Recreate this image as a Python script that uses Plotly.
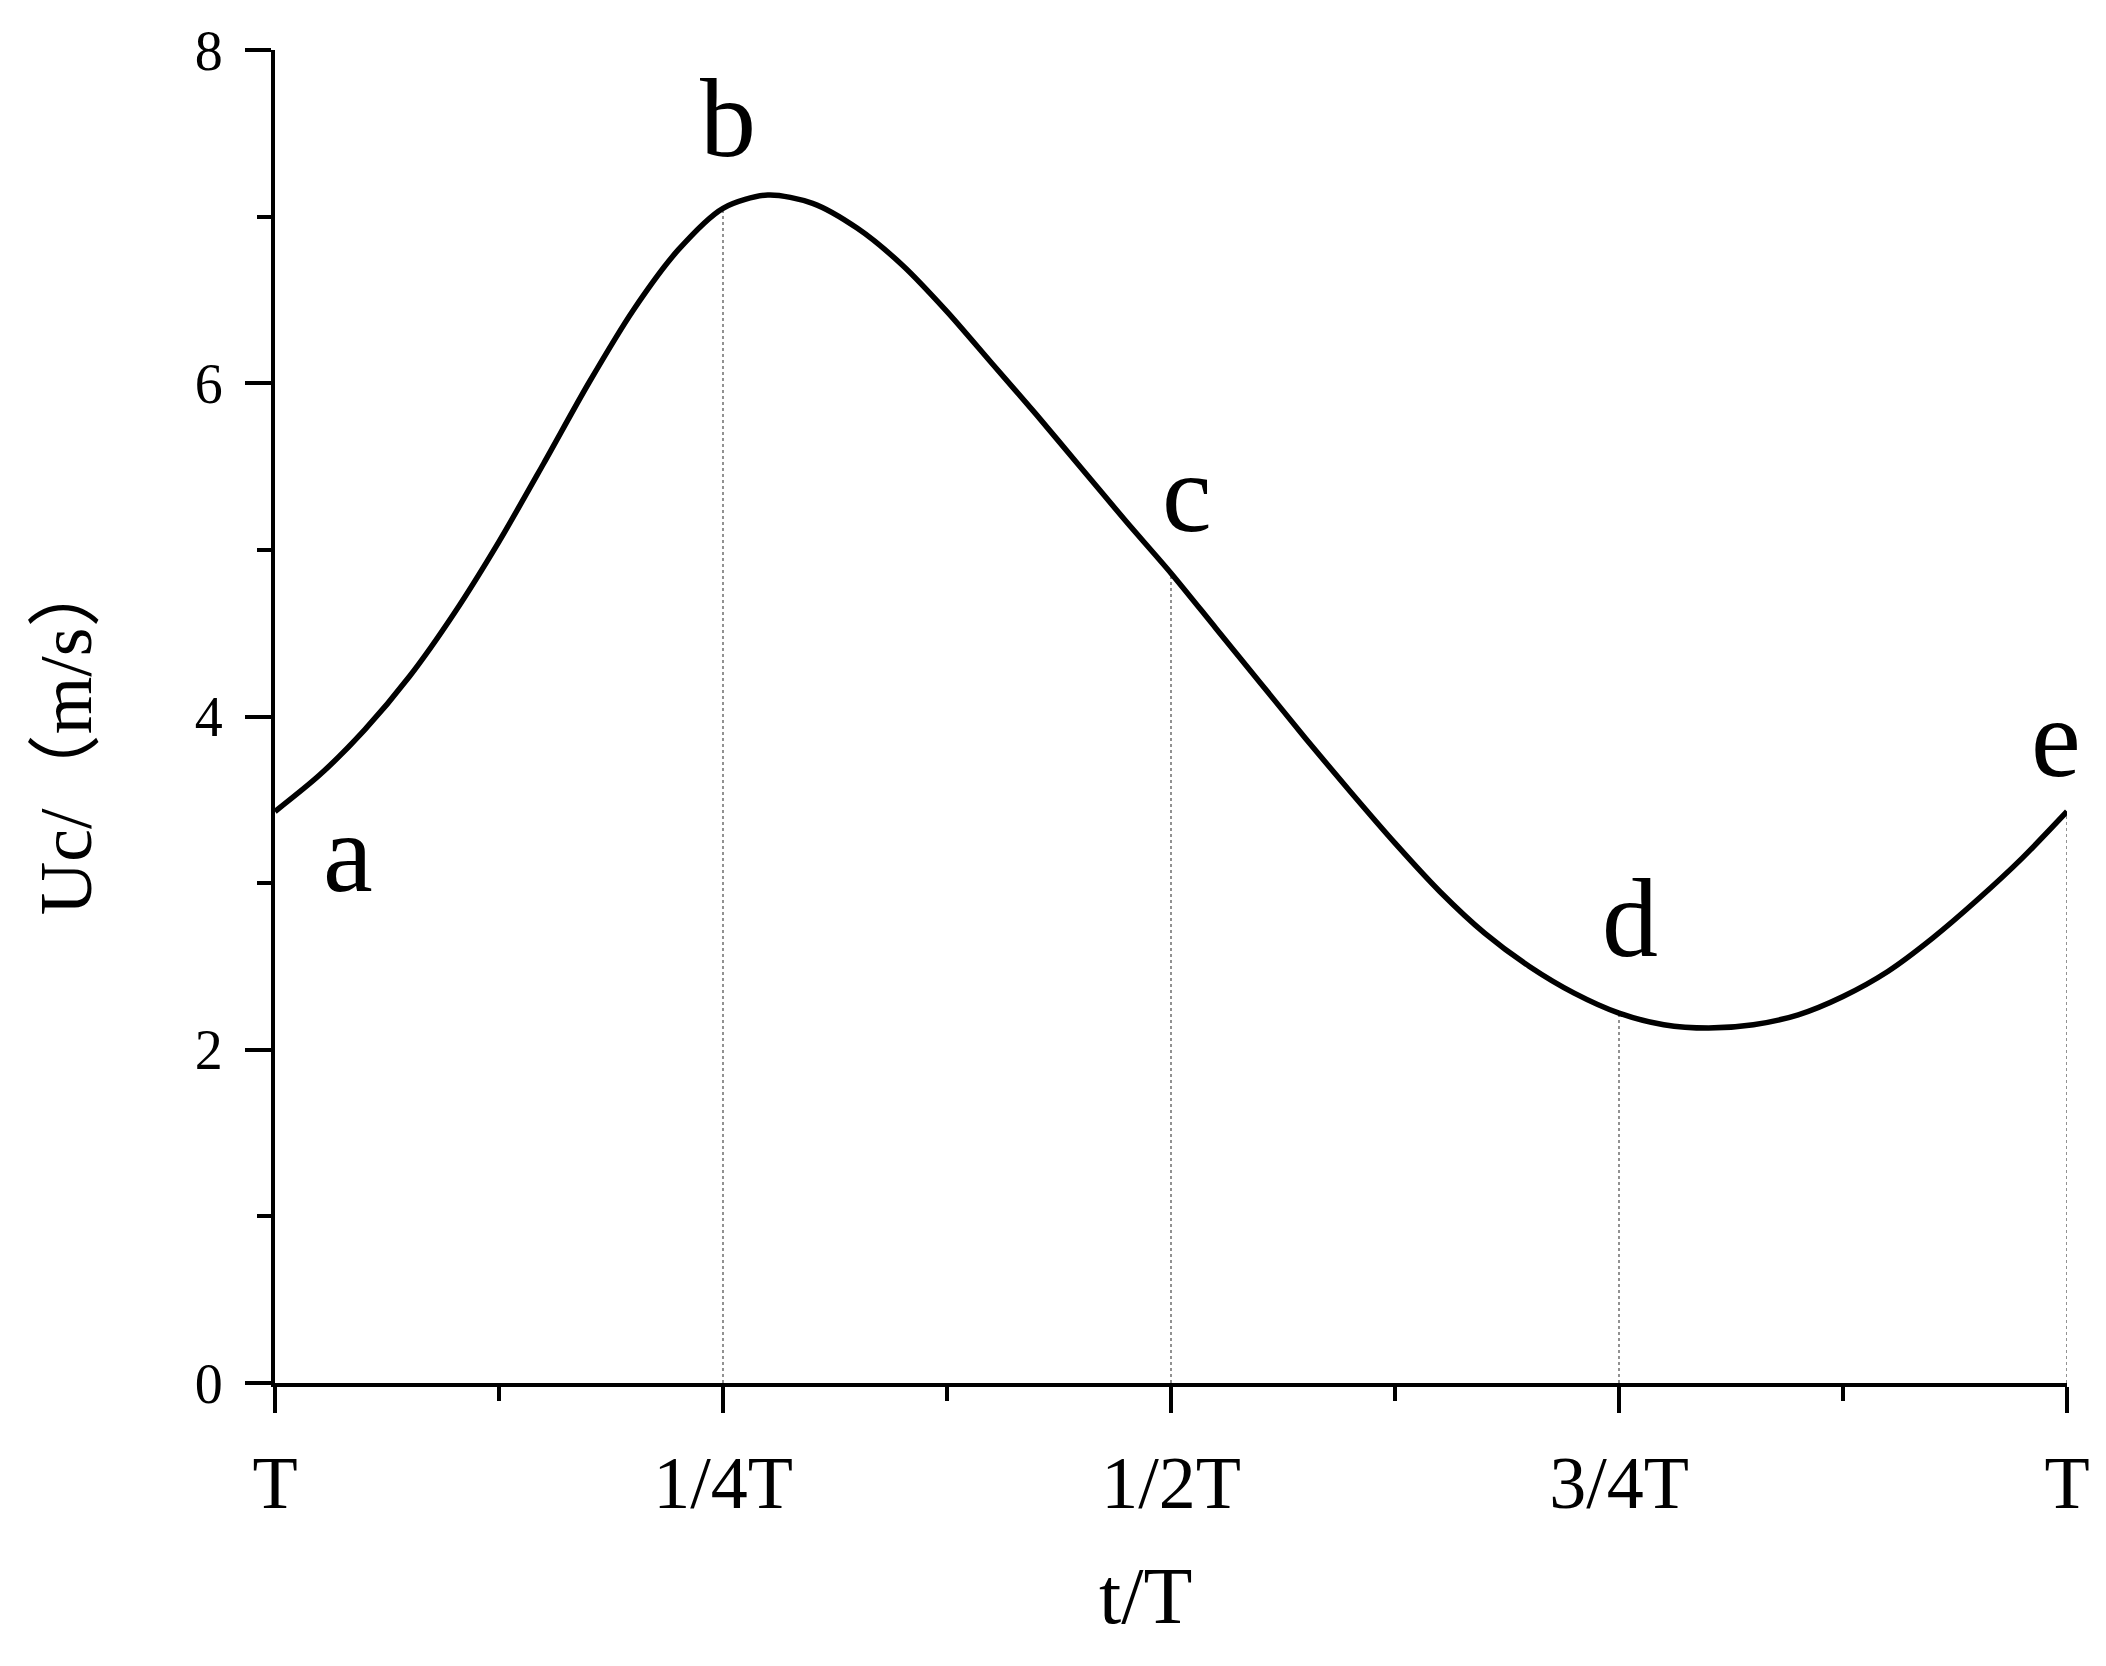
import plotly.graph_objects as go

# ---- data ----
t_frac = [0.000, 0.025, 0.050, 0.075, 0.100, 0.125, 0.150, 0.175, 0.200, 0.225,
          0.250, 0.275, 0.300, 0.325, 0.350, 0.375, 0.400, 0.425, 0.450, 0.475,
          0.500, 0.525, 0.550, 0.575, 0.600, 0.625, 0.650, 0.675, 0.700, 0.725,
          0.750, 0.775, 0.800, 0.825, 0.850, 0.875, 0.900, 0.925, 0.950, 0.975,
          1.000]
uc = [3.43, 3.65, 3.92, 4.24, 4.62, 5.05, 5.52, 6.00, 6.44, 6.80,
      7.05, 7.13, 7.08, 6.93, 6.71, 6.43, 6.12, 5.81, 5.49, 5.17,
      4.86, 4.53, 4.20, 3.87, 3.55, 3.24, 2.95, 2.70, 2.50, 2.34,
      2.22, 2.15, 2.13, 2.15, 2.21, 2.32, 2.47, 2.67, 2.90, 3.15,
      3.43]

tick_vals = [0, 0.25, 0.5, 0.75, 1.0]
tick_text = ["T", "1/4T", "1/2T", "3/4T", "T"]
minor_vals = [0.125, 0.375, 0.625, 0.875]

guide_x = [0.25, 0.5, 0.75, 1.0]

point_labels = ["a", "b", "c", "d", "e"]
label_x = [0.041, 0.253, 0.509, 0.756, 0.994]
label_y = [3.18, 7.59, 5.34, 2.79, 3.87]

x_title = "t/T"
y_title = "Uc/（m/s）"

serif = "Liberation Serif, Times New Roman, serif"

fig = go.Figure()

for gx in guide_x:
    gy = uc[t_frac.index(gx)]
    fig.add_trace(go.Scatter(
        x=[gx, gx], y=[0, gy], mode="lines",
        line=dict(color="#777777", width=1.6, dash="dot"),
        showlegend=False, hoverinfo="skip"))

fig.add_trace(go.Scatter(
    x=t_frac, y=uc, mode="lines",
    line=dict(color="black", width=5.5, shape="spline", smoothing=0.8),
    showlegend=False))

for txt, lx, ly in zip(point_labels, label_x, label_y):
    fig.add_annotation(x=lx, y=ly, xref="x", yref="y", text=txt,
                       showarrow=False, xanchor="center", yanchor="middle",
                       font=dict(family=serif, size=112, color="black"))

# axis titles
fig.add_annotation(x=0.4855, y=-0.160, xref="paper", yref="paper", text=x_title,
                   showarrow=False, xanchor="center", yanchor="middle",
                   font=dict(family=serif, size=80, color="black"))
fig.add_annotation(x=-0.117, y=0.487, xref="paper", yref="paper", text=y_title,
                   showarrow=False, xanchor="center", yanchor="middle",
                   textangle=-90,
                   font=dict(family="Liberation Serif, Noto Sans CJK SC, serif",
                             size=74, color="black"))

fig.update_layout(
    width=2106, height=1666,
    margin=dict(l=267, r=47, t=39, b=291),
    paper_bgcolor="white", plot_bgcolor="white",
    showlegend=False,
)

fig.update_xaxes(
    range=[0, 1], showgrid=False, zeroline=False,
    showline=True, linecolor="black", linewidth=4,
    ticks="outside", ticklen=26, tickwidth=3.5, tickcolor="black",
    tickvals=tick_vals, ticktext=tick_text,
    tickfont=dict(family=serif, size=74, color="black"),
    ticklabelstandoff=6,
    minor=dict(tickvals=minor_vals, ticks="outside", ticklen=14,
               tickwidth=3.5, tickcolor="black", showgrid=False),
)

fig.update_yaxes(
    range=[0, 8], showgrid=False, zeroline=False,
    showline=True, linecolor="black", linewidth=4,
    ticks="outside", ticklen=26, tickwidth=3.5, tickcolor="black",
    tick0=0, dtick=2,
    tickfont=dict(family=serif, size=56, color="black"),
    ticklabelstandoff=11,
    minor=dict(dtick=1, tick0=0, ticks="outside", ticklen=14,
               tickwidth=3.5, tickcolor="black", showgrid=False),
)

fig.write_html("out.html")
